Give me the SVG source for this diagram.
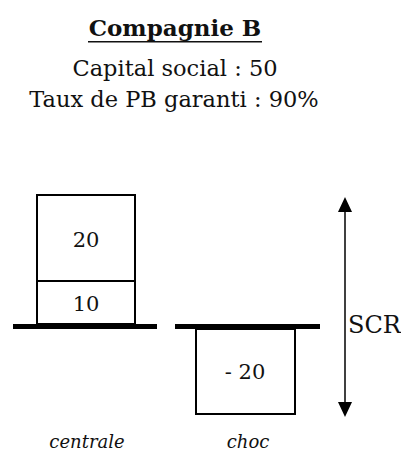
<svg xmlns="http://www.w3.org/2000/svg" width="401" height="452" viewBox="0 0 401 452">
<style>
.t{font-size:22.5px}
.b{font-size:21px}
.i{font-size:18px;font-style:italic}
.box{fill:#fff;stroke:#000;stroke-width:2}
.bar{fill:#000}
</style>
<g font-family="'DejaVu Serif', 'Liberation Serif', serif" fill="#111" text-anchor="middle">
<g id="title">
<text x="175" y="36" font-size="23" font-weight="bold">Compagnie B</text>
<rect x="88" y="41" width="174" height="1.5" fill="#111"/>
<text class="t" x="175" y="76">Capital social : 50</text>
<text class="t" x="174" y="107">Taux de PB garanti : 90%</text>
</g>
<g id="centrale">
<rect class="box" x="37" y="195" width="98" height="86"/>
<text class="b" x="86" y="247">20</text>
<rect class="box" x="37" y="281" width="98" height="43"/>
<text class="b" x="86" y="311">10</text>
<rect class="bar" x="13" y="324" width="144" height="5"/>
<text class="i" x="87" y="448">centrale</text>
</g>
<g id="choc">
<rect class="bar" x="175" y="324" width="145" height="5"/>
<rect class="box" x="196" y="329" width="99" height="85"/>
<text class="b" x="245" y="379">- 20</text>
<text class="i" x="248" y="448">choc</text>
</g>
<g id="connectors">
<line x1="345" y1="212" x2="345" y2="402" stroke="#000" stroke-width="1.5"/>
<path d="M345,197 L338,212 L352,212 z" fill="#000"/>
<path d="M345,417 L338,402 L352,402 z" fill="#000"/>
</g>
<g id="scr">
<text x="348" y="333" font-size="24" text-anchor="start">SCR</text>
</g>
</g>
</svg>
